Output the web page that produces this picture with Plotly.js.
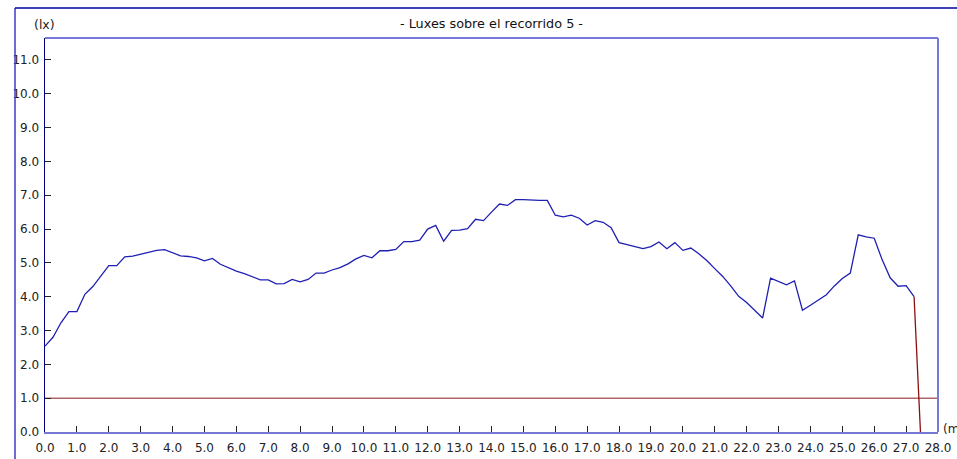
<!DOCTYPE html>
<html>
<head>
<meta charset="utf-8">
<script src="https://cdn.plot.ly/plotly-3.0.1.min.js"></script>
<style>html,body{margin:0;padding:0;background:#fff;}#chart{width:957px;height:459px;}</style>
</head>
<body>
<div id="chart"></div>
<script>
// distance along route (m)
const distance = [
  0.00, 0.25, 0.50, 0.75, 1.00, 1.25, 1.50, 1.75, 2.00, 2.25,
  2.50, 2.75, 3.00, 3.25, 3.50, 3.75, 4.00, 4.25, 4.50, 4.75,
  5.00, 5.25, 5.50, 5.75, 6.00, 6.25, 6.50, 6.75, 7.00, 7.25,
  7.50, 7.75, 8.00, 8.25, 8.50, 8.75, 9.00, 9.25, 9.50, 9.75,
  10.00, 10.25, 10.50, 10.75, 11.00, 11.25, 11.50, 11.75, 12.00, 12.25,
  12.50, 12.75, 13.00, 13.25, 13.50, 13.75, 14.00, 14.25, 14.50, 14.75,
  15.00, 15.25, 15.50, 15.75, 16.00, 16.25, 16.50, 16.75, 17.00, 17.25,
  17.50, 17.75, 18.00, 18.25, 18.50, 18.75, 19.00, 19.25, 19.50, 19.75,
  20.00, 20.25, 20.50, 20.75, 21.00, 21.25, 21.50, 21.75, 22.00, 22.25,
  22.50, 22.75, 23.00, 23.25, 23.50, 23.75, 24.00, 24.25, 24.50, 24.75,
  25.00, 25.25, 25.50, 25.75, 26.00, 26.25, 26.50, 26.75, 27.00, 27.25
];
// illuminance (lx)
const luxes = [
  2.54, 2.80, 3.23, 3.56, 3.56, 4.07, 4.30, 4.62, 4.92, 4.92,
  5.18, 5.20, 5.26, 5.31, 5.37, 5.39, 5.30, 5.21, 5.19, 5.15,
  5.06, 5.13, 4.96, 4.85, 4.76, 4.68, 4.60, 4.50, 4.50, 4.38,
  4.39, 4.51, 4.44, 4.51, 4.70, 4.70, 4.79, 4.86, 4.97, 5.12,
  5.22, 5.15, 5.36, 5.36, 5.40, 5.63, 5.63, 5.67, 6.00, 6.11,
  5.64, 5.96, 5.97, 6.01, 6.29, 6.25, 6.50, 6.74, 6.70, 6.87,
  6.87, 6.85, 6.85, 6.85, 6.41, 6.36, 6.41, 6.32, 6.12, 6.25,
  6.20, 6.04, 5.60, 5.54, 5.47, 5.42, 5.48, 5.62, 5.42, 5.60,
  5.37, 5.44, 5.27, 5.07, 4.83, 4.60, 4.32, 4.01, 3.83, 3.60,
  3.37, 4.55, 4.45, 4.35, 4.47, 3.60, 3.75, 3.91, 4.06, 4.32,
  4.54, 4.70, 5.83, 5.77, 5.73, 5.09, 4.56, 4.31, 4.33, 4.00
];
// end of route drop
const endX = [27.25, 27.45];
const endY = [4.00, 0.00];
// minimum level line
const limitX = [0, 28];
const limitY = [1.0, 1.0];

const yTicks = [0,1,2,3,4,5,6,7,8,9,10,11];
const yTickText = ["0.0","1.0","2.0","3.0","4.0","5.0","6.0","7.0","8.0","9.0","10.0","11.0"];
const xTicks = [0,1,2,3,4,5,6,7,8,9,10,11,12,13,14,15,16,17,18,19,20,21,22,23,24,25,26,27,28];
const xTickText = ["0.0","1.0","2.0","3.0","4.0","5.0","6.0","7.0","8.0","9.0","10.0","11.0","12.0","13.0","14.0",
  "15.0","16.0","17.0","18.0","19.0","20.0","21.0","22.0","23.0","24.0","25.0","26.0","27.0","28.0"];

const FONT = "DejaVu Sans, Verdana, sans-serif";

const traces = [
  {x: limitX, y: limitY, mode: 'lines', line: {color: '#b06666', width: 1.5}, hoverinfo: 'skip'},
  {x: distance, y: luxes, mode: 'lines', line: {color: '#1f1fb4', width: 1.3}},
  {x: endX, y: endY, mode: 'lines', line: {color: '#8b1010', width: 1.3}}
];

const layout = {
  width: 957, height: 459,
  margin: {l: 45, r: 19, t: 38, b: 27, pad: 0},
  paper_bgcolor: '#ffffff', plot_bgcolor: '#ffffff',
  showlegend: false,
  font: {family: FONT, size: 12, color: '#222'},
  title: {text: '- Luxes sobre el recorrido 5 -', font: {family: FONT, size: 12.8, color: '#111'},
          xref: 'paper', x: 0.5, xanchor: 'center', yref: 'container', y: 1 - 24/459, yanchor: 'middle'},
  xaxis: {range: [0, 28], tickmode: 'array', tickvals: xTicks, ticktext: xTickText,
          ticks: 'inside', ticklen: 6, tickwidth: 1, tickcolor: '#222', ticklabelstandoff: 4,
          showgrid: false, zeroline: false, showline: true, linecolor: '#7777d4', linewidth: 2,
          tickfont: {family: FONT, size: 12, color: '#222'}, fixedrange: true},
  yaxis: {range: [0, 11.65], tickmode: 'array', tickvals: yTicks, ticktext: yTickText,
          ticks: 'inside', ticklen: 6, tickwidth: 1, tickcolor: '#222', ticklabelstandoff: 2,
          showgrid: false, zeroline: false, showline: true, linecolor: '#000080', linewidth: 1.5,
          tickfont: {family: FONT, size: 12, color: '#222'}, fixedrange: true},
  shapes: [
    {type: 'line', xref: 'paper', yref: 'paper', x0: 0, x1: 1, y0: 1, y1: 1, line: {color: '#7777dd', width: 2}},
    {type: 'line', xref: 'paper', yref: 'paper', x0: 1, x1: 1, y0: 0, y1: 1, line: {color: '#7777dd', width: 2}},
    {type: 'line', xref: 'paper', yref: 'paper', x0: (15-45)/893, x1: (15-45)/893, y0: (432-8)/394, y1: -0.2, line: {color: '#3c3cc0', width: 1.5}},
    {type: 'line', xref: 'paper', yref: 'paper', x0: (15-45)/893, x1: 1.1, y0: (432-8)/394, y1: (432-8)/394, line: {color: '#0000a0', width: 1.5}}
  ],
  annotations: [
    {text: '(lx)', xref: 'paper', yref: 'paper', x: (44-45)/893, y: (432-24)/394, xanchor: 'center', yanchor: 'middle',
     showarrow: false, font: {family: FONT, size: 12.5, color: '#222'}},
    {text: '(m)', xref: 'paper', yref: 'paper', x: (941-45)/893, y: (432-429)/394, xanchor: 'left', yanchor: 'middle',
     showarrow: false, font: {family: FONT, size: 12, color: '#222'}}
  ]
};

Plotly.newPlot('chart', traces, layout, {displayModeBar: false, staticPlot: true});
</script>
</body>
</html>
